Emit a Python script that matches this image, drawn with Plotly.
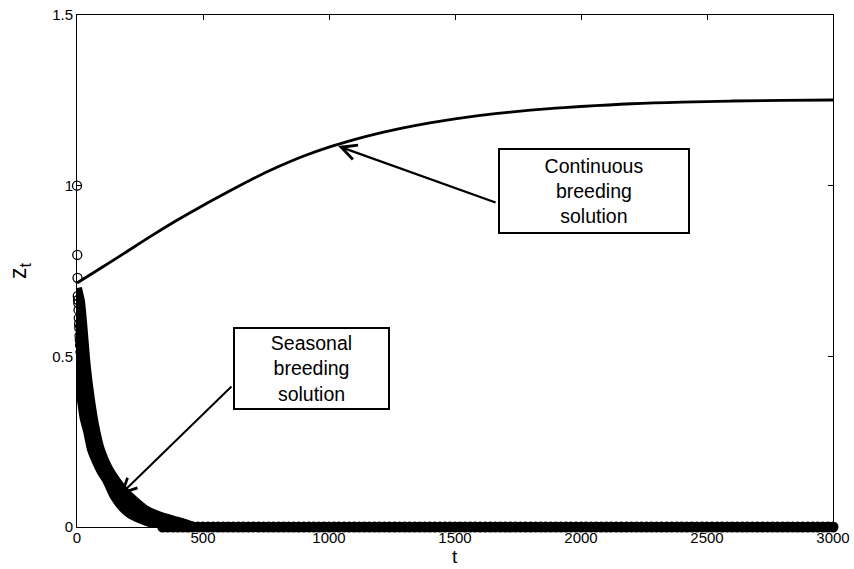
import plotly.graph_objects as go

# Continuous breeding solution
cont_t = [0, 100, 200, 300, 400, 500, 600, 700, 800, 900, 1000, 1100, 1200, 1300,
          1400, 1500, 1600, 1700, 1800, 1900, 2000, 2200, 2400, 2600, 2800, 3000]
cont_z = [0.715, 0.761, 0.808, 0.855, 0.900, 0.942, 0.982, 1.021, 1.056, 1.087,
          1.113, 1.135, 1.154, 1.170, 1.184, 1.196, 1.206, 1.214, 1.221, 1.227,
          1.232, 1.240, 1.245, 1.248, 1.250, 1.251]

# Seasonal breeding solution: first discrete iterates
seas_first_t = [0, 1, 2, 3, 4, 5, 6, 7, 8, 9, 10, 11, 12, 14]
seas_first_z = [1.0, 0.797, 0.73, 0.677, 0.665, 0.656, 0.636, 0.612, 0.595,
                0.583, 0.56, 0.548, 0.533, 0.513]

# Seasonal solution: lower (left) strand of the band
seas_lo_t = [0, 2, 4, 8, 14, 20, 30, 44, 60, 80, 100, 119, 150, 180, 210, 250, 300, 360, 420]
seas_lo_z = [0.69, 0.60, 0.50, 0.45, 0.40, 0.37, 0.32, 0.28, 0.226, 0.19, 0.16,
             0.138, 0.09, 0.06, 0.04, 0.025, 0.012, 0.005, 0.0]

# Seasonal solution: upper (right) strand of the band
seas_hi_t = [0, 12, 20, 35, 52, 70, 91, 120, 151, 185, 222, 270, 330, 400, 460]
seas_hi_z = [0.70, 0.66, 0.60, 0.47, 0.37, 0.29, 0.226, 0.175, 0.138, 0.105,
             0.079, 0.05, 0.03, 0.015, 0.0]

# Seasonal solution: long tail resting on zero
seas_tail_t = list(range(340, 3001, 20))
seas_tail_z = [0.0] * len(seas_tail_t)

x_ticks = [0, 500, 1000, 1500, 2000, 2500, 3000]
y_ticks = [0, 0.5, 1, 1.5]
y_tick_text = ["0", "0.5", "1", "1.5"]

cont_label = "Continuous<br>breeding<br>solution"
seas_label = "Seasonal<br>breeding<br>solution"

FONT = "Liberation Sans, Arial, sans-serif"

fig = go.Figure()

# band of the seasonal solution
fig.add_trace(go.Scatter(
    x=seas_lo_t + seas_hi_t[::-1], y=seas_lo_z + seas_hi_z[::-1],
    mode="lines", fill="toself", fillcolor="black",
    line=dict(color="black", width=10, shape="spline", smoothing=0.6),
    hoverinfo="skip", showlegend=False))
fig.add_trace(go.Scatter(
    x=seas_tail_t, y=seas_tail_z, mode="markers", cliponaxis=False,
    marker=dict(symbol="circle", size=11, color="black", line=dict(width=0)),
    hoverinfo="skip", showlegend=False))
fig.add_trace(go.Scatter(
    x=seas_first_t, y=seas_first_z, mode="markers", cliponaxis=False,
    marker=dict(symbol="circle-open", size=9, color="black", line=dict(width=1.3)),
    showlegend=False))

# continuous solution
fig.add_trace(go.Scatter(
    x=cont_t, y=cont_z, mode="lines",
    line=dict(color="black", width=2.8, shape="spline", smoothing=1.0),
    showlegend=False))

# arrows
fig.add_annotation(x=1036, y=1.116, ax=1667, ay=0.949, xref="x", yref="y",
                   axref="x", ayref="y", text="", showarrow=True,
                   arrowhead=5, arrowsize=1.3, arrowwidth=2.3, arrowcolor="black")
fig.add_annotation(x=171, y=0.094, ax=619, ay=0.416, xref="x", yref="y",
                   axref="x", ayref="y", text="", showarrow=True,
                   arrowhead=5, arrowsize=1.4, arrowwidth=2.0, arrowcolor="black")

# text boxes
fig.add_annotation(x=2052, y=0.984, xref="x", yref="y", showarrow=False, text=cont_label,
                   align="center", valign="middle",
                   font=dict(family=FONT, size=19.5, color="black"),
                   bgcolor="white", bordercolor="black", borderwidth=2, borderpad=0,
                   width=188, height=82)
fig.add_annotation(x=931, y=0.464, xref="x", yref="y", showarrow=False, text=seas_label,
                   align="center", valign="middle",
                   font=dict(family=FONT, size=19.5, color="black"),
                   bgcolor="white", bordercolor="black", borderwidth=2, borderpad=0,
                   width=153, height=79)

# axis titles
fig.add_annotation(x=0, y=0.5, xref="paper", yref="paper", xshift=-58,
                   xanchor="center", yanchor="middle",
                   text="z<sub>t</sub>", textangle=-90, showarrow=False,
                   font=dict(family=FONT, size=23, color="black"))
fig.add_annotation(x=0.5, y=0, xref="paper", yref="paper", yshift=-42,
                   text="t", showarrow=False, xanchor="center", yanchor="bottom",
                   font=dict(family=FONT, size=19, color="black"))

axis_common = dict(showline=True, linecolor="black", linewidth=1, mirror="ticks",
                   ticks="inside", ticklen=5, tickcolor="black", showgrid=False,
                   zeroline=False, automargin=False,
                   tickfont=dict(family=FONT, size=15, color="black"))

fig.update_xaxes(range=[0, 3000], tickvals=x_ticks, ticklabelstandoff=-3, **axis_common)
fig.update_yaxes(range=[0, 1.5], tickvals=y_ticks, ticktext=y_tick_text, **axis_common)

fig.update_layout(width=854, height=569, margin=dict(l=77, r=21, t=15, b=42),
                  paper_bgcolor="white", plot_bgcolor="white",
                  font=dict(family=FONT, color="black"))

fig.write_html("out.html")
